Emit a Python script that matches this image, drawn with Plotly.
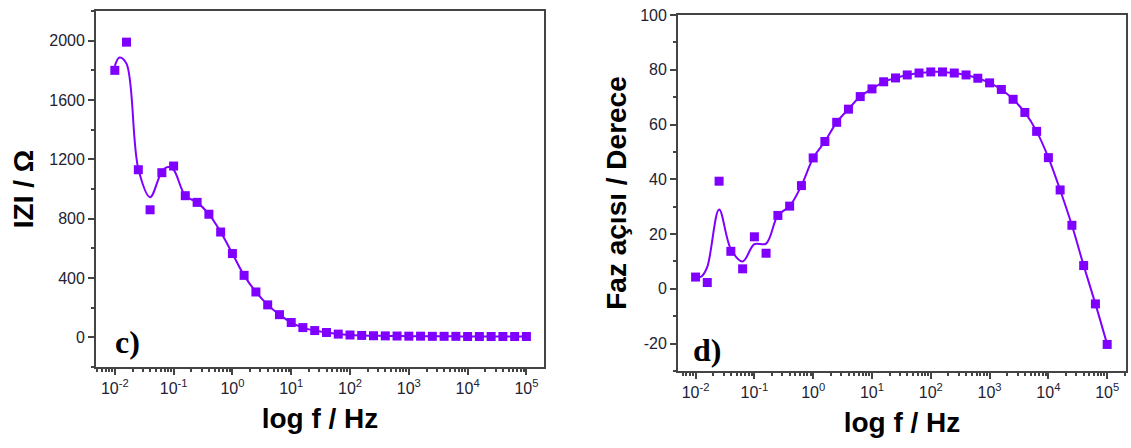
import plotly.graph_objects as go

# measured frequencies (Hz), 5 points per decade
freq = [0.01, 0.0158, 0.0251, 0.0398, 0.0631, 0.1, 0.158, 0.251, 0.398, 0.631,
        1, 1.58, 2.51, 3.98, 6.31, 10, 15.8, 25.1, 39.8, 63.1,
        100, 158, 251, 398, 631, 1000, 1585, 2512, 3981, 6310,
        10000, 15849, 25119, 39811, 63096, 100000]

# |Z| in ohm (panel c)
z_mod = [1800, 1990, 1130, 860, 1110, 1155, 955, 910, 830, 710,
         565, 418, 306, 219, 153, 100, 66, 46, 33, 22,
         16, 13, 11, 10, 9, 8, 8, 7, 7, 7,
         6, 6, 6, 6, 6, 6]

# phase angle in degrees (panel d)
phase = [4.3, 2.3, 39.3, 13.7, 7.3, 19, 13, 26.8, 30.2, 37.7,
         47.8, 53.8, 60.8, 65.6, 70.2, 73, 75.6, 77, 78.1, 78.8,
         79.2, 79.2, 78.8, 78.1, 76.9, 75.2, 72.8, 69.2, 64.4, 57.5,
         47.9, 36.1, 23.2, 8.5, -5.5, -20.3]

# fitted curves (low frequency part differs from data)
fit_f_c = [0.01, 0.012, 0.0158, 0.0251, 0.0398, 0.0631, 0.08, 0.1, 0.158] + freq[7:]
fit_z_c = [1830, 1887, 1845, 1136, 945, 1118, 1148, 1130, 955] + z_mod[7:]

fit_f_d = [0.01, 0.0126, 0.0158, 0.0251, 0.0398, 0.0631, 0.1, 0.158] + freq[7:]
fit_p_d = [4, 4.5, 8, 29, 14.5, 10, 16.3, 16.5] + phase[7:]

x_tickvals = [0.01, 0.1, 1, 10, 100, 1000, 10000, 100000]
x_ticktext = ["10<sup>-2</sup>", "10<sup>-1</sup>", "10<sup>0</sup>", "10<sup>1</sup>",
              "10<sup>2</sup>", "10<sup>3</sup>", "10<sup>4</sup>", "10<sup>5</sup>"]
phase_tickvals = [-20, 0, 20, 40, 60, 80, 100]
phase_ticktext = ["-20", "0", "20", "40", "60", "80", "100"]

purple = "#7f00ff"
axis_col = "#444444"
tick_font = dict(family="Arial, Liberation Sans", size=16, color="#222233")
title_font = dict(family="Arial, Liberation Sans", size=28, color="#000000")

fig = go.Figure()

fig.add_trace(go.Scatter(x=fit_f_c, y=fit_z_c, mode="lines", line_shape="spline",
                         line=dict(color=purple, width=2), xaxis="x", yaxis="y",
                         hoverinfo="skip"))
fig.add_trace(go.Scatter(x=freq, y=z_mod, mode="markers",
                         marker=dict(symbol="square", size=9, color=purple),
                         xaxis="x", yaxis="y"))
fig.add_trace(go.Scatter(x=fit_f_d, y=fit_p_d, mode="lines", line_shape="spline",
                         line=dict(color=purple, width=2), xaxis="x2", yaxis="y2",
                         hoverinfo="skip"))
fig.add_trace(go.Scatter(x=freq, y=phase, mode="markers",
                         marker=dict(symbol="square", size=9, color=purple),
                         xaxis="x2", yaxis="y2"))

xcommon = dict(type="log", tickvals=x_tickvals, ticktext=x_ticktext,
               ticks="outside", ticklen=6, tickwidth=1.5, tickcolor=axis_col,
               minor=dict(ticks="outside", ticklen=3, tickcolor=axis_col, dtick="D1"),
               showline=True, linecolor=axis_col, linewidth=1.8, mirror=True,
               showgrid=False, zeroline=False, tickfont=tick_font,
               title=dict(text="<b>log f / Hz</b>", font=title_font, standoff=12))
ycommon = dict(ticks="outside", ticklen=6, tickwidth=1.5, tickcolor=axis_col,
               showline=True, linecolor=axis_col, linewidth=1.8, mirror=True,
               showgrid=False, zeroline=False, tickfont=tick_font)

fig.update_layout(
    width=1131, height=448,
    margin=dict(l=96, r=3, t=6, b=77),
    paper_bgcolor="white", plot_bgcolor="white",
    showlegend=False,
    xaxis=dict(xcommon, domain=[0, 0.435], range=[-2.32, 5.3], anchor="y"),
    yaxis=dict(ycommon, domain=[0.011, 1], range=[-200, 2200], dtick=400, tick0=0,
               minor=dict(ticks="outside", ticklen=3, tickcolor=axis_col, dtick=200),
               title=dict(text="<b>IZI / Ω</b>", font=title_font, standoff=8),
               anchor="x"),
    xaxis2=dict(xcommon, domain=[0.565, 1], range=[-2.3, 5.32], anchor="y2"),
    yaxis2=dict(ycommon, domain=[0, 0.989], range=[-30, 100],
                tickvals=phase_tickvals, ticktext=phase_ticktext,
                minor=dict(ticks="outside", ticklen=3, tickcolor=axis_col,
                           tickvals=[-30, -10, 10, 30, 50, 70, 90]),
                title=dict(text="<b>Faz açısı / Derece</b>", font=title_font, standoff=5),
                anchor="x2"),
    annotations=[
        dict(text="<b>c)</b>", xref="x domain", yref="y domain", x=0.038, y=0.069,
             xanchor="left", yanchor="middle", showarrow=False,
             font=dict(family="Liberation Serif, Times New Roman", size=32, color="black")),
        dict(text="<b>d)</b>", xref="x2 domain", yref="y2 domain", x=0.029, y=0.058,
             xanchor="left", yanchor="middle", showarrow=False,
             font=dict(family="Liberation Serif, Times New Roman", size=32, color="black")),
    ],
)

# page body has a default 8px margin; remove it so the figure sits at 0,0
fig.write_html("out.html", config={"displayModeBar": False},
               post_script="document.body.style.margin='0';")
